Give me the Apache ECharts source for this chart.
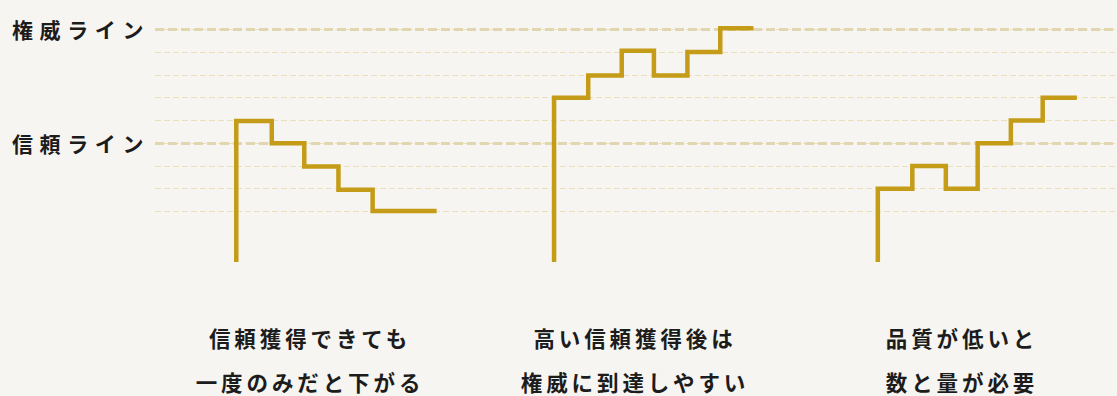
<!DOCTYPE html>
<html>
<head>
<meta charset="utf-8">
<script src="https://cdn.jsdelivr.net/npm/echarts@6/dist/echarts.min.js"></script>
<style>
  html, body { margin: 0; padding: 0; background: #f6f5f1; }
  #main { width: 1117px; height: 396px; }
  #main text { letter-spacing: 3.9px; }
</style>
</head>
<body>
<div id="main"></div>
<script>
// Y levels: 0 = lowest guide line, 3 = 信頼ライン, 8 = 権威ライン
const yTickLabels = { 3: '信頼ライン', 8: '権威ライン' };
const baseLevel = -2.22;            // where each staircase starts (bottom)

// Staircase 1: trust gained but drops after one miss
const stepX1 = [2.45, 3.52, 4.5, 5.53, 6.56, 8.49];
const stepY1 = [3.97, 3.0, 1.98, 0.96, 0.02];

// Staircase 2: high trust, then reaches authority
const stepX2 = [12.03, 13.06, 14.07, 15.04, 16.05, 17.04, 18.04];
const stepY2 = [5.0, 5.97, 7.06, 5.97, 7.0, 8.05];

// Staircase 3: low quality needs volume
const stepX3 = [21.79, 22.83, 23.84, 24.8, 25.8, 26.76, 27.79];
const stepY3 = [1.0, 2.0, 1.0, 3.0, 4.0, 5.0];

const captions = [
  ['信頼獲得できても', '一度のみだと下がる'],
  ['高い信頼獲得後は', '権威に到達しやすい'],
  ['品質が低いと', '数と量が必要']
];

function stairs(xs, ys) {
  const pts = [[xs[0], baseLevel]];
  for (let i = 0; i < ys.length; i++) {
    pts.push([xs[i], ys[i]]);
    pts.push([xs[i + 1], ys[i]]);
  }
  return pts;
}

const FONT = '"Noto Sans CJK JP", "Noto Sans", sans-serif';
const gold = '#c49c17';

const chart = echarts.init(document.getElementById('main'), null, { renderer: 'svg' });

const stepSeries = [[stepX1, stepY1], [stepX2, stepY2], [stepX3, stepY3]].map(([xs, ys]) => ({
  type: 'line',
  data: stairs(xs, ys),
  showSymbol: false,
  symbol: 'none',
  clip: false,
  z: 5,
  silent: true,
  lineStyle: { color: gold, width: 4.5, cap: 'butt', join: 'miter' }
}));

const captionCenters = [310, 635, 962];
const captionRows = [337, 381];
const graphics = [];
captions.forEach((lines, i) => {
  lines.forEach((t, j) => {
    graphics.push({
      type: 'text',
      x: captionCenters[i],
      y: captionRows[j],
      style: {
        text: t,
        textAlign: 'center',
        textVerticalAlign: 'middle',
        font: 'bold 21.5px ' + FONT,
        lineHeight: 22,
        fill: '#1c1c1c'
      }
    });
  });
});

chart.setOption({
  backgroundColor: '#f6f5f1',
  animation: false,
  grid: { left: 155, right: 0, top: 29.3, bottom: 396 - 211.5 },
  xAxis: { type: 'value', min: 0, max: 29, show: false },
  yAxis: {
    type: 'value',
    min: 0,
    max: 8,
    interval: 1,
    axisLine: { show: false },
    axisTick: { show: false },
    axisLabel: {
      margin: 5,
      fontSize: 21,
      fontWeight: 'bold',
      fontFamily: FONT,
      color: '#1c1c1c',
      formatter: v => yTickLabels[v] || ''
    },
    splitLine: {
      show: true,
      lineStyle: { color: '#e9e1b9', width: 1.2, type: [6, 3] }
    }
  },
  series: [
    {
      type: 'line',
      data: [],
      z: 1,
      silent: true,
      markLine: {
        silent: true,
        symbol: ['none', 'none'],
        label: { show: false },
        lineStyle: { color: '#e0d7b0', width: 2.8, type: [9, 4] },
        data: [{ yAxis: 3 }, { yAxis: 8 }]
      }
    },
    ...stepSeries
  ],
  graphic: graphics
});

const axisTexts = Object.values(yTickLabels);
function applySpacing() {
  document.querySelectorAll('#main text').forEach(el => {
    if (axisTexts.includes(el.textContent.trim())) {
      el.style.letterSpacing = '6.6px';
    }
  });
}
applySpacing();
chart.on('finished', applySpacing);
setTimeout(applySpacing, 50);
</script>
</body>
</html>
